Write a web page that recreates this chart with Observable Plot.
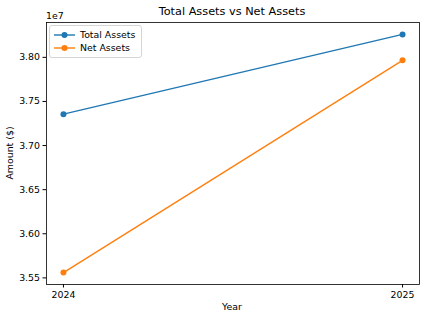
<!DOCTYPE html>
<html><head><meta charset="utf-8">
<script src="https://cdn.jsdelivr.net/npm/d3@7"></script>
<script src="https://cdn.jsdelivr.net/npm/@observablehq/plot@0.6"></script>
<style>
html,body{margin:0;padding:0;background:#fff;}
#wrap{position:relative;width:425px;height:320px;font-family:"DejaVu Sans",sans-serif;color:#000;}
.abs{position:absolute;white-space:nowrap;line-height:1;}
#title{left:232px;top:6px;transform:translateX(-50%);font-size:11.3px;}
#offset{left:46px;top:11px;font-size:9.4px;}
#ylab{left:10px;top:153px;transform:translate(-50%,-50%) rotate(-90deg);font-size:9.4px;}
#xlab{left:232px;top:302px;transform:translateX(-50%);font-size:9.4px;}
#legend{left:49px;top:25px;width:93px;height:33px;border:1px solid #d5d5d5;border-radius:3px;background:rgba(255,255,255,0.8);box-sizing:border-box;}
.item{position:absolute;left:4px;height:14px;display:flex;align-items:center;font-size:9.4px;}
.item svg{margin-right:5px;}
</style></head>
<body><div id="wrap"></div>
<script>
const years = [2024, 2025];
const totalAssets = [37356000, 38260000];
const netAssets = [35560000, 37966000];
const seriesNames = ["Total Assets", "Net Assets"];
const seriesColors = ["#1f77b4", "#ff7f0e"];
const yTicks = [35500000, 36000000, 36500000, 37000000, 37500000, 38000000];
const titleText = "Total Assets vs Net Assets";
const xLabel = "Year";
const yLabel = "Amount ($)";
const offsetText = "1e7";

const rows = [];
years.forEach((yr, i) => {
  rows.push({year: yr, value: totalAssets[i], series: seriesNames[0]});
  rows.push({year: yr, value: netAssets[i], series: seriesNames[1]});
});

const allVals = totalAssets.concat(netAssets);
const ymin = d3.min(allVals), ymax = d3.max(allVals);
const ypad = (ymax - ymin) * 0.05;
const xpad = (years[1] - years[0]) * 0.05;

const chart = Plot.plot({
  width: 425, height: 320,
  marginLeft: 46, marginRight: 6, marginTop: 22, marginBottom: 36,
  style: {fontFamily: "DejaVu Sans, sans-serif", fontSize: "9.4px", color: "#000", background: "transparent"},
  x: {type: "linear", domain: [years[0] - xpad, years[1] + xpad]},
  y: {domain: [ymin - ypad, ymax + ypad]},
  color: {domain: seriesNames, range: seriesColors},
  marks: [
    Plot.axisX({ticks: years, tickFormat: d => String(d), tickSize: 3.5, tickPadding: 3, label: null, stroke: "#000"}),
    Plot.axisY({ticks: yTicks, tickFormat: d => (d / 1e7).toFixed(2), tickSize: 3.5, tickPadding: 3, label: null, stroke: "#000"}),
    Plot.line(rows, {x: "year", y: "value", z: "series", stroke: "series", strokeWidth: 1.4}),
    Plot.dot(rows, {x: "year", y: "value", fill: "series", r: 3, stroke: null}),
    Plot.frame({stroke: "#000", strokeWidth: 0.8})
  ]
});

const wrap = document.getElementById("wrap");
wrap.appendChild(chart);
function addText(id, txt) { const d = document.createElement("div"); d.id = id; d.className = "abs"; d.textContent = txt; wrap.appendChild(d); }
addText("title", titleText);
addText("offset", offsetText);
addText("ylab", yLabel);
addText("xlab", xLabel);

const leg = document.createElement("div"); leg.id = "legend"; leg.className = "abs";
seriesNames.forEach((name, i) => {
  const it = document.createElement("div"); it.className = "item"; it.style.top = (2 + i * 13) + "px";
  it.innerHTML = `<svg width="21" height="8"><line x1="0" x2="21" y1="4" y2="4" stroke="${seriesColors[i]}" stroke-width="1.4"/><circle cx="10.5" cy="4" r="3" fill="${seriesColors[i]}"/></svg>`;
  const s = document.createElement("span"); s.textContent = name; it.appendChild(s);
  leg.appendChild(it);
});
wrap.appendChild(leg);
</script></body></html>
